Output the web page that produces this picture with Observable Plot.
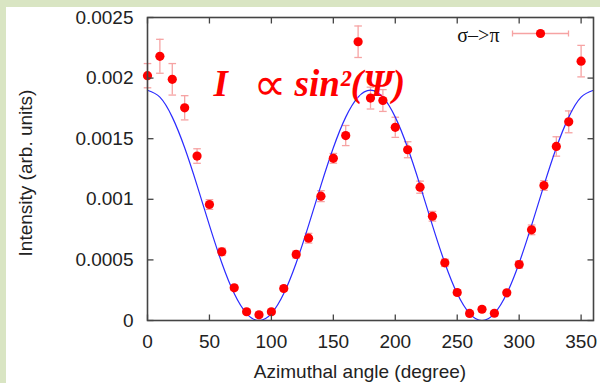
<!DOCTYPE html>
<html><head><meta charset="utf-8">
<script src="https://cdn.jsdelivr.net/npm/d3@7"></script>
<script src="https://cdn.jsdelivr.net/npm/@observablehq/plot@0.6"></script>
<style>
html,body{margin:0;padding:0;background:#d9e5c3;width:600px;height:383px;overflow:hidden;}
#wrap{position:absolute;left:6px;top:7px;width:594px;height:376px;background:#fff;}
#wrap svg{display:block;}
</style></head><body><div id="wrap"></div>
<script>
// Measured data (azimuthal angle in degrees, intensity in arb. units)
const angles = [0,10,20,30,40,50,60,70,80,90,100,110,120,130,140,150,160,170,180,190,200,210,220,230,240,250,260,270,280,290,300,310,320,330,340,350];
const intensity = [0.00202,0.00218,0.00199,0.001755,0.001357,0.000957,0.000567,0.00027,0.000072,0.000047,0.000072,0.000264,0.000545,0.000679,0.001026,0.001338,0.001526,0.0023,0.001835,0.001815,0.001594,0.001409,0.0011,0.00086,0.000476,0.000231,0.000058,0.000093,0.00006,0.000228,0.000462,0.000748,0.001114,0.001436,0.001639,0.00214];
const errors = [0.0001,0.00014,0.00013,0.0001,0.00006,0.00004,0.00003,0.00002,0.00002,0.00002,0.00002,0.00002,0.00003,0.00004,0.000045,0.00004,0.000083,0.00013,0.00009,0.00009,0.000083,0.000066,0.00005,0.00004,0.00003,0.00002,0.00002,0.00002,0.00002,0.00002,0.00003,0.00004,0.00004,0.00008,0.00009,0.00013];
// Fitted curve
const fitAngles = [0,10,20,30,40,50,60,70,80,90,100,110,120,130,140,150,160,170,180,190,200,210,220,230,240,250,260,270,280,290,300,310,320,330,340,350,360];
const fitValues = [0.0019,0.001843,0.001678,0.001425,0.001115,0.000785,0.000475,0.000222,0.0000574,0,0.0000574,0.000222,0.000475,0.000785,0.001115,0.001425,0.001678,0.001843,0.0019,0.001843,0.001678,0.001425,0.001115,0.000785,0.000475,0.000222,0.0000574,0,0.0000574,0.000222,0.000475,0.000785,0.001115,0.001425,0.001678,0.001843,0.0019];
const xTicks = [0,50,100,150,200,250,300,350];
const yTicks = [0,0.0005,0.001,0.0015,0.002,0.0025];
const xLabel = "Azimuthal angle (degree)";
const yLabel = "Intensity (arb. units)";
const legendLabel = "σ–>π";
const annotationParts = ["I", "∝", "sin²(Ψ)"];

const red = "#ff0000", pink = "#f6a3a3", blue = "#2b2bff", frameColor = "#444";
const data = angles.map((a, i) => ({a, v: intensity[i], e: errors[i]}));
const fit = fitAngles.map((a, i) => ({a, v: fitValues[i]}));

const rad = s => Math.sqrt(s / Math.PI);
const hLine = {draw(c, s) { const r = rad(s); c.moveTo(-r, 0); c.lineTo(r, 0); }};
const vLine = {draw(c, s) { const r = rad(s); c.moveTo(0, -r); c.lineTo(0, r); }};
const tickUp = {draw(c, s) { const r = rad(s); c.moveTo(0, 0); c.lineTo(0, -r); }};
const tickDown = {draw(c, s) { const r = rad(s); c.moveTo(0, 0); c.lineTo(0, r); }};
const tickRight = {draw(c, s) { const r = rad(s); c.moveTo(0, 0); c.lineTo(r, 0); }};
const tickLeft = {draw(c, s) { const r = rad(s); c.moveTo(0, 0); c.lineTo(-r, 0); }};

const serif = "'Liberation Serif', 'Times New Roman', 'DejaVu Serif', serif";
const annStyle = {frameAnchor: "top-left", lineAnchor: "bottom", textAnchor: "start", fontFamily: serif, fontWeight: "bold", fontStyle: "italic", fontSize: 37, fill: red, text: d => d};

const chart = Plot.plot({
  width: 594, height: 376,
  marginLeft: 141, marginRight: 7, marginTop: 10, marginBottom: 63,
  x: {domain: [0, 360]},
  y: {domain: [0, 0.0025]},
  style: {fontFamily: "'Liberation Sans', Arial, sans-serif", fontSize: "19px", color: "#222", background: "transparent", overflow: "visible"},
  marks: [
    // error bars
    Plot.ruleX(data, {x: "a", y1: d => d.v - d.e, y2: d => d.v + d.e, stroke: pink, strokeWidth: 1.3}),
    Plot.dot(data, {x: "a", y: d => d.v + d.e, symbol: hLine, r: 3.8, fill: "none", stroke: pink, strokeWidth: 1.3}),
    Plot.dot(data, {x: "a", y: d => d.v - d.e, symbol: hLine, r: 3.8, fill: "none", stroke: pink, strokeWidth: 1.3}),
    // fit curve
    Plot.line(fit, {x: "a", y: "v", curve: "natural", stroke: blue, strokeWidth: 1.2}),
    // data points
    Plot.dot(data, {x: "a", y: "v", r: 4.6, fill: red}),
    // axes labels
    Plot.axisX({ticks: xTicks, anchor: "bottom", tickSize: 0, tickPadding: 14, label: null, tickFormat: d => String(d)}),
    Plot.axisY({ticks: yTicks, anchor: "left", tickSize: 0, tickPadding: 14, label: null, tickFormat: d => String(d)}),
    // inward tick marks on all four sides
    Plot.dot(xTicks, {x: d => d, frameAnchor: "bottom", symbol: tickUp, r: 6, fill: "none", stroke: frameColor, strokeWidth: 1.3}),
    Plot.dot(xTicks, {x: d => d, frameAnchor: "top", symbol: tickDown, r: 6, fill: "none", stroke: frameColor, strokeWidth: 1.3}),
    Plot.dot(yTicks, {y: d => d, frameAnchor: "left", symbol: tickRight, r: 6, fill: "none", stroke: frameColor, strokeWidth: 1.3}),
    Plot.dot(yTicks, {y: d => d, frameAnchor: "right", symbol: tickLeft, r: 6, fill: "none", stroke: frameColor, strokeWidth: 1.3}),
    Plot.frame({stroke: frameColor, strokeWidth: 1.6}),
    // axis titles
    Plot.text([xLabel], {text: d => d, frameAnchor: "bottom", textAnchor: "middle", dx: -10.5, dy: 57, lineAnchor: "bottom", fontSize: 19, fill: "#222"}),
    Plot.text([yLabel], {text: d => d, frameAnchor: "left", textAnchor: "middle", rotate: -90, dx: -122, dy: 4, lineAnchor: "middle", fontSize: 19, fill: "#222"}),
    // annotation
    Plot.text([annotationParts[0]], {...annStyle, dx: 66, dy: 78}),
    Plot.text([annotationParts[1]], {...annStyle, dx: 106, dy: 82, fontWeight: "normal", fontStyle: "normal", fontSize: 46, fontFamily: "'DejaVu Sans', sans-serif"}),
    Plot.text([annotationParts[2]], {...annStyle, dx: 147, dy: 78}),
    // legend
    Plot.text([legendLabel], {text: d => d, frameAnchor: "top-right", textAnchor: "end", lineAnchor: "bottom", dx: -94, dy: 24, fontFamily: serif, fontSize: 20, fill: "#111"}),
    Plot.dot([0], {frameAnchor: "top-right", dx: -53, dy: 16, symbol: hLine, r: 28, fill: "none", stroke: pink, strokeWidth: 1.3}),
    Plot.dot([0], {frameAnchor: "top-right", dx: -81, dy: 16, symbol: vLine, r: 3, fill: "none", stroke: pink, strokeWidth: 1.3}),
    Plot.dot([0], {frameAnchor: "top-right", dx: -25, dy: 16, symbol: vLine, r: 3, fill: "none", stroke: pink, strokeWidth: 1.3}),
    Plot.dot([0], {frameAnchor: "top-right", dx: -53, dy: 16, r: 4.6, fill: red})
  ]
});
document.getElementById("wrap").appendChild(chart);
</script>
</body></html>
